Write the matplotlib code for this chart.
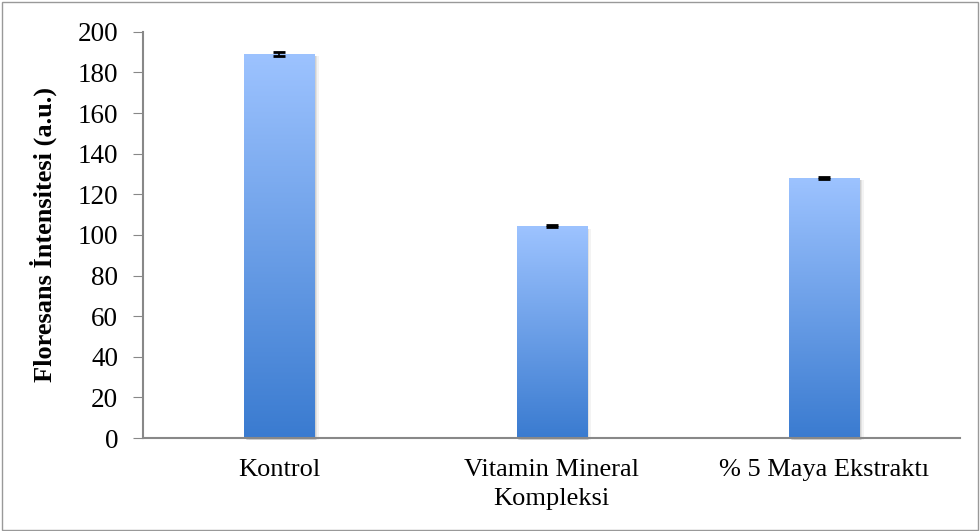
import matplotlib.pyplot as plt
import numpy as np
from matplotlib.colors import LinearSegmentedColormap

plt.rcParams['font.family'] = ['Liberation Serif', 'DejaVu Serif']

kategoriler = ['Kontrol', 'Vitamin Mineral\nKompleksi', '% 5 Maya Ekstraktı']
degerler = [189.3, 104.2, 128.2]
hatalar = [1.0, 0.5, 0.4]

fig = plt.figure(figsize=(9.8, 5.31), dpi=100)
ax = fig.add_axes([0.146, 0.175, 0.834, 0.765])

# renk geçişi: üstte açık mavi, altta koyu mavi
cmap = LinearSegmentedColormap.from_list('mavi', ['#3A7BD0', '#9DC3FF'])
gradyan = np.linspace(0, 1, 256).reshape(-1, 1)
genislik = 0.257

x = np.arange(len(kategoriler))
for xi, d in zip(x, degerler):
    # hafif gölge
    for k, a in [(0.016, 0.15), (0.010, 0.25), (0.005, 0.35)]:
        ax.bar(xi + k, d - 0.5, width=genislik, bottom=-0.8, color='#b0b0b0',
               alpha=a, zorder=1, clip_on=False)
    cubuk = ax.bar(xi, d, width=genislik, color='none', zorder=2)[0]
    im = ax.imshow(gradyan, cmap=cmap, origin='lower', aspect='auto',
                   extent=[xi - genislik / 2, xi + genislik / 2, 0, d], zorder=2)
    im.set_clip_path(cubuk)

ax.errorbar(x, degerler, yerr=hatalar, fmt='none', ecolor='black',
            elinewidth=1.2, capsize=4.5, capthick=2, zorder=3)

ax.set_xlim(-0.5, 2.5)
ax.set_ylim(0, 200)
ax.set_yticks(np.arange(0, 201, 20))
ax.set_xticks(x)
ax.set_xticklabels(kategoriler, fontsize=19, linespacing=1.4)
ax.tick_params(axis='x', length=0, pad=15)
ax.tick_params(axis='y', labelsize=19.5, length=7, color='#888888',
               direction='out', pad=11)
ax.set_ylabel('Floresans İntensitesi (a.u.)', fontsize=19, fontweight='bold')
ax.yaxis.set_label_coords(-0.105, 0.5)

for s in ['top', 'right']:
    ax.spines[s].set_visible(False)
for s in ['left', 'bottom']:
    ax.spines[s].set_color('#888888')
    ax.spines[s].set_linewidth(1.5)

# çerçeve
fig.patches.append(plt.Rectangle((0.002, 0.002), 0.996, 0.994,
                                 transform=fig.transFigure, fill=False,
                                 edgecolor='#999999', linewidth=1))

fig.savefig('out.png', dpi=100)
